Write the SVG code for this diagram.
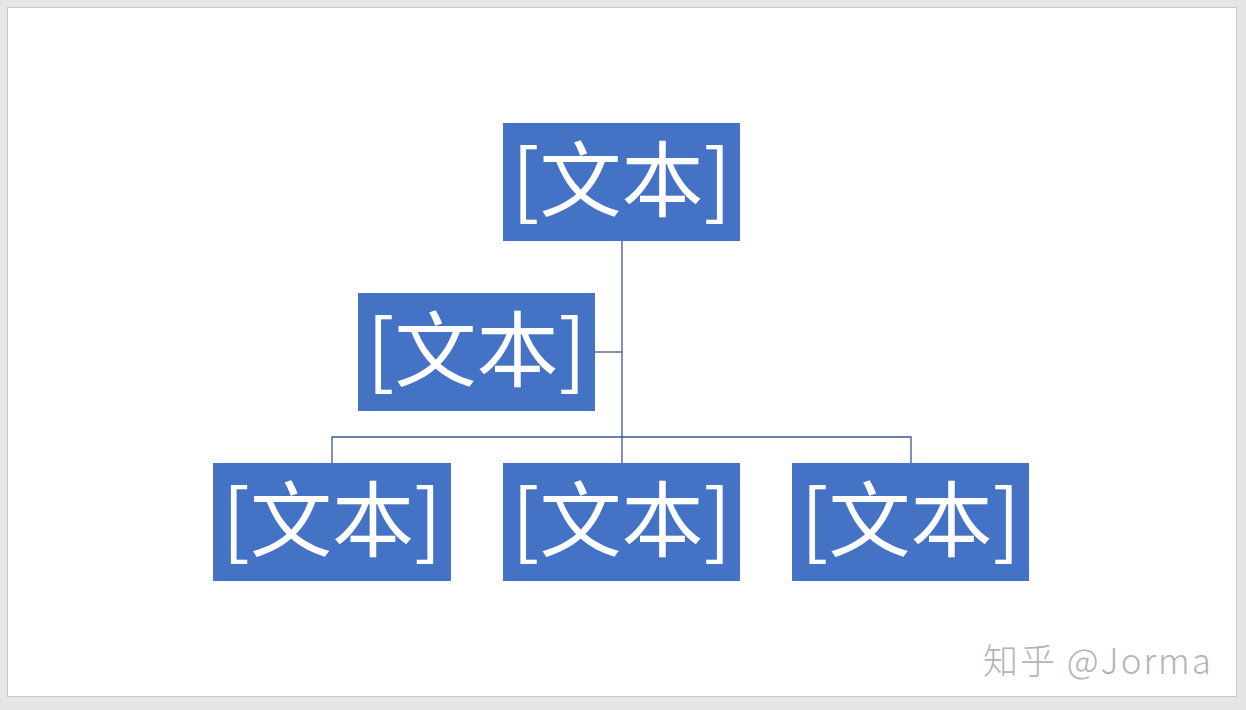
<svg xmlns="http://www.w3.org/2000/svg" width="1246" height="710" viewBox="0 0 1246 710">
<style>
.box{fill:#4472C4}
.lbl{fill:#FFFFFF;font-family:"Noto Sans CJK SC","Liberation Sans",sans-serif;font-size:82px;font-weight:400;text-anchor:middle}
.conn{stroke:#3A5A8C;stroke-width:1.3;fill:none}
.wm{fill:#B4B4B4;font-family:"Noto Sans CJK SC","Liberation Sans",sans-serif;font-size:35px;font-weight:300;letter-spacing:2px}
</style>
<rect x="0" y="0" width="1246" height="710" fill="#E6E6E6"/>
<rect x="7.5" y="7.5" width="1229" height="689" fill="#FFFFFF" stroke="#C8C8C8" stroke-width="1"/>
<g id="connectors">
<path class="conn" d="M622 241 V463"/>
<path class="conn" d="M595 352 H622"/>
<path class="conn" d="M332 463 V437 H911 V463"/>
</g>
<g id="node-top">
<rect class="box" x="503" y="123" width="237" height="118"/>
<text class="lbl" x="621.5" y="210">[文本]</text>
</g>
<g id="node-assistant">
<rect class="box" x="358" y="293" width="237" height="118"/>
<text class="lbl" x="476.5" y="380">[文本]</text>
</g>
<g id="node-b1">
<rect class="box" x="213" y="463" width="238" height="118"/>
<text class="lbl" x="332" y="550">[文本]</text>
</g>
<g id="node-b2">
<rect class="box" x="503" y="463" width="237" height="118"/>
<text class="lbl" x="621.5" y="550">[文本]</text>
</g>
<g id="node-b3">
<rect class="box" x="792" y="463" width="237" height="118"/>
<text class="lbl" x="910.5" y="550">[文本]</text>
</g>
<text class="wm" x="983" y="674">知乎 @Jorma</text>
</svg>
